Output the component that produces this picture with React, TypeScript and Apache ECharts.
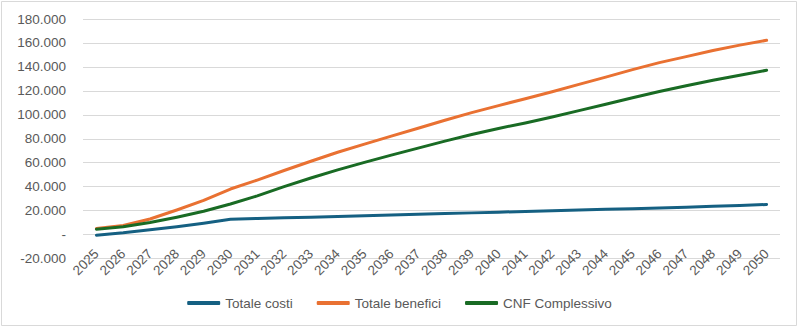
import React, { useEffect, useRef } from "react";
import * as echarts from "echarts";

const years = [
  "2025", "2026", "2027", "2028", "2029", "2030", "2031", "2032", "2033",
  "2034", "2035", "2036", "2037", "2038", "2039", "2040", "2041", "2042",
  "2043", "2044", "2045", "2046", "2047", "2048", "2049", "2050",
];

const totaleCosti = [
  -500, 1500, 4000, 6500, 9500, 12800, 13400, 14000, 14500, 15100, 15700,
  16300, 16900, 17500, 18100, 18700, 19300, 19900, 20500, 21100, 21500,
  22200, 22900, 23600, 24300, 25100,
];

const totaleBenefici = [
  5000, 7500, 13000, 20500, 28500, 38000, 45500, 53500, 61200, 68700, 75500,
  82200, 88800, 95400, 101800, 107700, 113400, 119200, 125400, 131500,
  137700, 143600, 148600, 153700, 158200, 162200,
];

const cnfComplessivo = [
  4500, 6500, 10000, 14500, 19500, 25500, 32300, 40000, 47200, 54000, 60300,
  66300, 72200, 78000, 83600, 88600, 93200, 98200, 103500, 108800, 114200,
  119400, 124200, 128800, 133000, 137200,
];

const seriesNames = ["Totale costi", "Totale benefici", "CNF Complessivo"];
const seriesColors = ["#156082", "#E97132", "#196B24"];

const FONT = "'Liberation Sans', Arial, sans-serif";
const TEXT_COLOR = "#595959";
const FS = 13.5;

function fmt(v: number): string {
  if (v === 0) return "-";
  const s = Math.abs(v).toString().replace(/\B(?=(\d{3})+(?!\d))/g, ".");
  return (v < 0 ? "-" : "") + s;
}

export default function App() {
  const ref = useRef<HTMLDivElement>(null);
  useEffect(() => {
    if (!ref.current) return;
    const chart = echarts.init(ref.current, undefined, { renderer: "svg" });
    const data = [totaleCosti, totaleBenefici, cnfComplessivo];
    chart.setOption({
      animation: false,
      backgroundColor: "#ffffff",
      graphic: [
        {
          type: "rect",
          shape: { x: 1.5, y: 1.5, width: 795, height: 324 },
          style: { fill: "none", stroke: "#d9d9d9", lineWidth: 1 },
          silent: true,
        },
      ],
      grid: { left: 83, right: 19, top: 19, bottom: 69.5, containLabel: false },
      legend: {
        data: seriesNames,
        left: "center",
        top: 291,
        icon: "roundRect",
        itemWidth: 33,
        itemHeight: 4,
        itemGap: 24,
        textStyle: { color: TEXT_COLOR, fontSize: FS, fontFamily: FONT },
      },
      xAxis: {
        type: "category",
        data: years,
        boundaryGap: true,
        axisLine: { show: false, onZero: false },
        axisTick: { show: false },
        axisLabel: {
          rotate: 45,
          margin: -7,
          interval: 0,
          color: TEXT_COLOR,
          fontSize: FS,
          fontFamily: FONT,
        },
      },
      yAxis: {
        type: "value",
        min: -20000,
        max: 180000,
        interval: 20000,
        axisLine: { show: false },
        axisTick: { show: false },
        splitLine: { lineStyle: { color: "#d9d9d9", width: 1 } },
        axisLabel: {
          margin: 17,
          color: TEXT_COLOR,
          fontSize: FS,
          fontFamily: FONT,
          formatter: (v: number) => fmt(v),
        },
      },
      series: seriesNames.map((name, i) => ({
        name,
        type: "line",
        data: data[i],
        symbol: "none",
        smooth: false,
        itemStyle: { color: seriesColors[i] },
        lineStyle: { color: seriesColors[i], width: 3, cap: "round", join: "round" },
      })),
    });
    return () => chart.dispose();
  }, []);
  return (
    <div
      ref={ref}
      style={{ position: "fixed", left: 0, top: 0, width: 799, height: 328 }}
    />
  );
}
